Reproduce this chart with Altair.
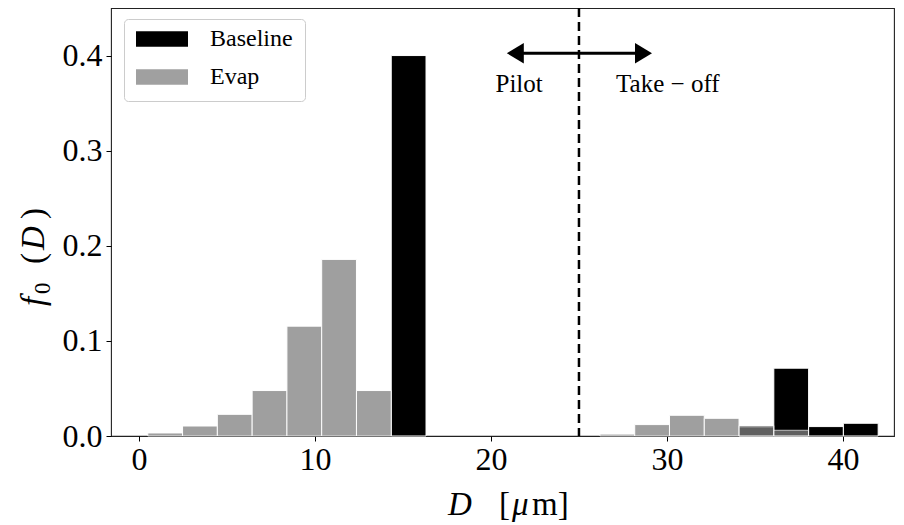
import altair as alt
import pandas as pd

# ---- data ----
bin_edges = [0.5, 2.476, 4.452, 6.429, 8.405, 10.381, 12.357, 14.333, 16.310,
             18.286, 20.262, 22.238, 24.214, 26.190, 28.167, 30.143, 32.119,
             34.095, 36.071, 38.048, 40.024, 42.0]
baseline_f0 = [0, 0, 0, 0, 0, 0, 0, 0.400, 0, 0, 0, 0, 0, 0, 0, 0, 0,
               0.0095, 0.0713, 0.0099, 0.0134]
evap_f0 = [0.0032, 0.0105, 0.0228, 0.0478, 0.1155, 0.1857, 0.0478, 0, 0, 0,
           0, 0, 0, 0.002, 0.012, 0.0218, 0.0186, 0.011, 0.006, 0, 0]
series_names = ["Baseline", "Evap"]
x_ticks = [0, 10, 20, 30, 40]
y_ticks = [0.0, 0.1, 0.2, 0.3, 0.4]
x_domain = [-1.59, 42.90]
y_domain = [0.0, 0.45]
split_D = [25.0]
arrow_D = [20.9, 29.15]
arrow_f0 = 0.4025
region_labels = ["Pilot", "Take \u2212 off"]
region_label_D = [21.6, 30.05]
region_label_f0 = 0.362

FONT = "Liberation Serif"

rows = []
for name, vals in zip(series_names, [baseline_f0, evap_f0]):
    for i, v in enumerate(vals):
        if v > 0:
            rows.append({"series": name, "D0": bin_edges[i], "D1": bin_edges[i + 1],
                         "f0": v, "zero": 0.0})
bars_df = pd.DataFrame(rows)

xs = alt.Scale(domain=x_domain, nice=False, zero=False, padding=0)
ys = alt.Scale(domain=y_domain, nice=False, zero=False, padding=0)

bars = alt.Chart(bars_df).mark_rect(stroke="white", strokeWidth=1).encode(
    x=alt.X("D0:Q", scale=xs,
            axis=alt.Axis(values=x_ticks, format="d", title=None, grid=False,
                          domain=False, tickSize=5, tickWidth=1, tickColor="black",
                          labelFont=FONT, labelFontSize=32, labelColor="black",
                          labelPadding=3)),
    x2="D1:Q",
    y=alt.Y("f0:Q", scale=ys,
            axis=alt.Axis(values=y_ticks, format=".1f", title=None, grid=False,
                          domain=False, tickSize=5, tickWidth=1, tickColor="black",
                          labelFont=FONT, labelFontSize=32, labelColor="black",
                          labelPadding=4)),
    y2="zero:Q",
    color=alt.Color("series:N", scale=alt.Scale(domain=series_names, range=["#000000", "#808080"]),
                    legend=alt.Legend(title=None, orient="none", legendX=13, legendY=11,
                                      direction="vertical",
                                      symbolType="M-1,-0.3L1,-0.3L1,0.3L-1,0.3Z",
                                      symbolSize=2704, symbolStrokeWidth=0,
                                      clipHeight=16,
                                      labelFont=FONT, labelFontSize=24, labelColor="black",
                                      labelOffset=22, padding=12, rowPadding=14,
                                      strokeColor="#cccccc", fillColor="rgba(255,255,255,0.8)",
                                      cornerRadius=4)),
    opacity=alt.Opacity("series:N", scale=alt.Scale(domain=series_names, range=[1.0, 0.75])),
)

split_df = pd.DataFrame({"D": split_D})
split = alt.Chart(split_df).mark_rule(color="black", strokeWidth=2.5, strokeDash=[9, 5]).encode(
    x=alt.X("D:Q", scale=xs)
)

shaft_df = pd.DataFrame({"a": [arrow_D[0] + 0.5], "b": [arrow_D[1] - 0.5], "y": [arrow_f0]})
shaft = alt.Chart(shaft_df).mark_rule(color="black", strokeWidth=3).encode(
    x=alt.X("a:Q", scale=xs), x2="b:Q", y=alt.Y("y:Q", scale=ys)
)
left_head = alt.Chart(pd.DataFrame({"D": [arrow_D[0]], "y": [arrow_f0]})).mark_point(
    shape="M0,0L1,-0.6L1,0.6Z", filled=True, size=1156, color="black", opacity=1, strokeWidth=0
).encode(x=alt.X("D:Q", scale=xs), y=alt.Y("y:Q", scale=ys))
right_head = alt.Chart(pd.DataFrame({"D": [arrow_D[1]], "y": [arrow_f0]})).mark_point(
    shape="M0,0L-1,-0.6L-1,0.6Z", filled=True, size=1156, color="black", opacity=1, strokeWidth=0
).encode(x=alt.X("D:Q", scale=xs), y=alt.Y("y:Q", scale=ys))

labels_df = pd.DataFrame({"label": region_labels, "D": region_label_D,
                          "y": [region_label_f0] * 2})
labels = alt.Chart(labels_df).mark_text(font=FONT, fontSize=25, color="black",
                                        align="center", baseline="alphabetic").encode(
    x=alt.X("D:Q", scale=xs), y=alt.Y("y:Q", scale=ys), text="label:N"
)

# axis titles composed of roman / italic pieces (positions in pixels of the plot area)
def piece(txt, x, y, size=33, style="normal", angle=0, align="left"):
    return alt.Chart(pd.DataFrame({"t": [txt]})).mark_text(
        font=FONT, fontSize=size, fontStyle=style, color="black", align=align,
        baseline="alphabetic", angle=angle
    ).encode(x=alt.value(x), y=alt.value(y), text="t:N")

xtitle = [
    piece("D", 337, 507, style="italic"),
    piece("[", 388, 507),
    piece("\u03bc", 401, 507, style="italic"),
    piece("m]", 421, 507),
]
ytitle = [
    piece("f", -67, 298, style="italic", angle=270),
    piece("0", -61, 286, size=23, angle=270),
    piece("(", -67, 256, angle=270),
    piece("D", -67, 242, style="italic", angle=270),
    piece(")", -67, 211, angle=270),
]

chart = alt.layer(bars, split, shaft, left_head, right_head, labels, *xtitle, *ytitle).properties(
    width=783, height=428,
    autosize=alt.AutoSizeParams(type="none"),
    padding={"left": 103, "top": 0, "right": 2, "bottom": 88},
).configure_view(stroke="#222222", strokeWidth=1.1).configure_axis(labelFont=FONT)

chart.save("out.html", embed_options={"renderer": "svg", "actions": False})
